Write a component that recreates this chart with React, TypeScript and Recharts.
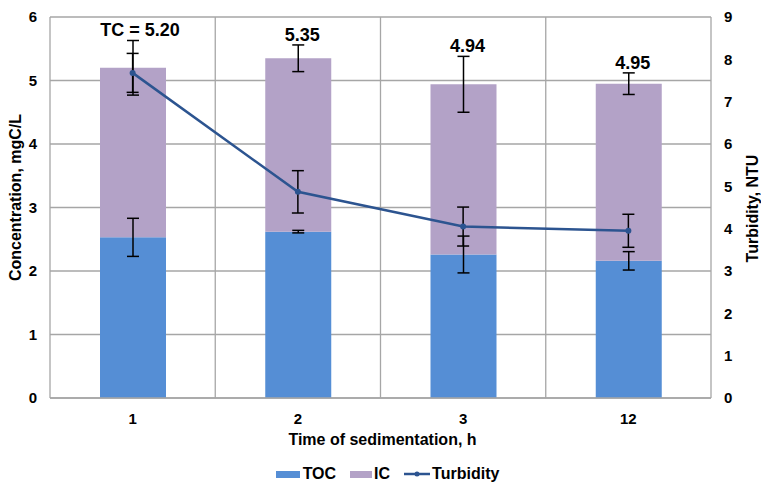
import React from "react";
import { ComposedChart, Bar, Line, XAxis, YAxis, CartesianGrid, ErrorBar, LabelList, Legend } from "recharts";

const categories = ["1", "2", "3", "12"];
const toc = [2.53, 2.62, 2.26, 2.16];
const ic = [2.67, 2.73, 2.68, 2.79];
const tcLabels = ["TC = 5.20", "5.35", "4.94", "4.95"];
const tocErr = [0.3, 0.02, 0.29, 0.145];
const icErr = [0.43, 0.21, 0.44, 0.17];
const turbidity = [7.68, 4.87, 4.05, 3.95];
const turbidityErr = [0.46, 0.5, 0.46, 0.39];
const leftTicks = [0, 1, 2, 3, 4, 5, 6];
const rightTicks = [0, 1, 2, 3, 4, 5, 6, 7, 8, 9];

const TOC_COLOR = "#558ED5";
const IC_COLOR = "#B3A2C7";
const LINE_COLOR = "#2C5490";
const GRID = "#A6A6A6";
const FONT = "'Liberation Sans', Arial, sans-serif";

const rows = categories.map((c, i) => ({
  time: c,
  toc: toc[i],
  ic: ic[i],
  tocErr: tocErr[i],
  icErr: icErr[i],
  turbidity: turbidity[i],
  turbidityErr: turbidityErr[i],
  label: tcLabels[i],
}));

const tickStyle = { fontFamily: FONT, fontSize: 15, fontWeight: 700, fill: "#000" };
const titleStyle = { fontFamily: FONT, fontSize: 16, fontWeight: 700, fill: "#000" };

function TcLabel(props: any) {
  const { x, y, width, height, value, index } = props;
  const pxPerUnit = height / ic[index];
  const errTop = y - icErr[index] * pxPerUnit;
  return (
    <text x={x + width / 2 + (index === 0 ? 7 : 4)} y={errTop - 4} textAnchor="middle" style={{ ...titleStyle, fontSize: 18 }}>
      {value}
    </text>
  );
}

function LeftTitle({ viewBox }: any) {
  const cx = 15;
  const cy = viewBox.y + viewBox.height / 2 - 10;
  return (
    <text x={cx} y={cy} transform={`rotate(-90 ${cx} ${cy})`} textAnchor="middle" dominantBaseline="central" style={titleStyle}>
      Concentration, mgC/L
    </text>
  );
}

function RightTitle({ viewBox }: any) {
  const cx = viewBox.x + viewBox.width - 9;
  const cy = viewBox.y + viewBox.height / 2 + 1;
  return (
    <text x={cx} y={cy} transform={`rotate(-90 ${cx} ${cy})`} textAnchor="middle" dominantBaseline="central" style={titleStyle}>
      Turbidity, NTU
    </text>
  );
}

function BottomTitle({ viewBox }: any) {
  return (
    <text x={viewBox.x + viewBox.width / 2 + 2} y={445} textAnchor="middle" style={titleStyle}>
      Time of sedimentation, h
    </text>
  );
}

function LegendBox() {
  const item = { display: "flex", alignItems: "center", marginRight: 14 } as const;
  const txt = { fontFamily: FONT, fontSize: 16, fontWeight: 700, color: "#000", lineHeight: "18px" } as const;
  return (
    <div style={{ display: "flex", justifyContent: "center", height: 18, paddingTop: 12, alignItems: "center", paddingLeft: 14 }}>
      <div style={item}>
        <span style={{ width: 24, height: 7, background: TOC_COLOR, marginRight: 3 }} />
        <span style={txt}>TOC</span>
      </div>
      <div style={item}>
        <span style={{ width: 22, height: 7, background: IC_COLOR, marginRight: 2 }} />
        <span style={txt}>IC</span>
      </div>
      <div style={{ ...item, marginRight: 0 }}>
        <svg width={26} height={8} style={{ marginRight: 2 }}>
          <line x1={0} y1={4} x2={26} y2={4} stroke={LINE_COLOR} strokeWidth={2.5} />
          <circle cx={13} cy={4} r={2.5} fill={LINE_COLOR} />
        </svg>
        <span style={txt}>Turbidity</span>
      </div>
    </div>
  );
}

export default function App() {
  return (
    <div style={{ position: "absolute", left: 0, top: 0, background: "#fff" }}>
      <ComposedChart width={761} height={483} data={rows} margin={{ top: 17, right: 0, bottom: 0, left: 0 }} barCategoryGap="30%">
        <CartesianGrid
          yAxisId="left"
          stroke={GRID}
          strokeWidth={1.3}
          verticalCoordinatesGenerator={({ offset }: any) =>
            [0, 1, 2, 3, 4].map((i) => offset.left + (i * offset.width) / 4)
          }
        />
        <XAxis
          dataKey="time"
          height={55}
          tickLine={false}
          axisLine={{ stroke: GRID, strokeWidth: 1.3 }}
          tickMargin={9}
          tick={tickStyle}
          label={BottomTitle}
        />
        <YAxis
          yAxisId="left"
          width={50}
          domain={[0, 6]}
          ticks={leftTicks}
          interval={0}
          tickLine={false}
          axisLine={false}
          tickMargin={7}
          tick={tickStyle}
          label={LeftTitle}
        />
        <YAxis
          yAxisId="right"
          orientation="right"
          width={50}
          domain={[0, 9]}
          ticks={rightTicks}
          interval={0}
          tickLine={false}
          axisLine={false}
          tickMargin={7}
          tick={tickStyle}
          label={RightTitle}
        />
        <Legend verticalAlign="bottom" content={() => <LegendBox />} />
        <Bar yAxisId="left" dataKey="toc" name="TOC" stackId="c" fill={TOC_COLOR} barSize={66} isAnimationActive={false}>
          <ErrorBar dataKey="tocErr" width={6} stroke="#000" strokeWidth={1.5} direction="y" />
        </Bar>
        <Bar yAxisId="left" dataKey="ic" name="IC" stackId="c" fill={IC_COLOR} barSize={66} isAnimationActive={false}>
          <ErrorBar dataKey="icErr" width={6} stroke="#000" strokeWidth={1.5} direction="y" />
          <LabelList dataKey="label" content={TcLabel} />
        </Bar>
        <Line
          yAxisId="right"
          dataKey="turbidity"
          name="Turbidity"
          stroke={LINE_COLOR}
          strokeWidth={2.5}
          dot={{ r: 3, fill: LINE_COLOR, stroke: LINE_COLOR, strokeWidth: 0 }}
          isAnimationActive={false}
        >
          <ErrorBar dataKey="turbidityErr" width={6} stroke="#000" strokeWidth={1.5} direction="y" />
        </Line>
      </ComposedChart>
    </div>
  );
}
